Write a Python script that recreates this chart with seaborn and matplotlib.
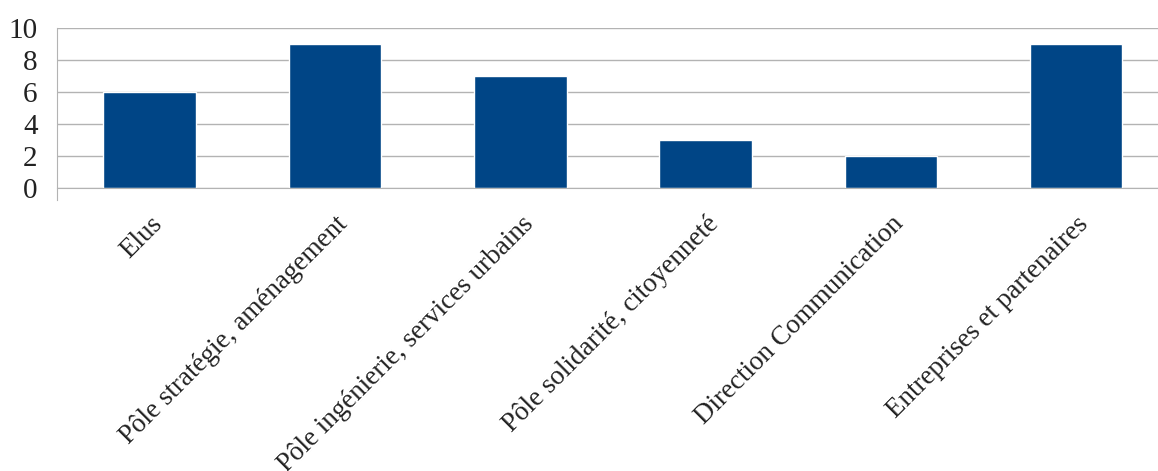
import matplotlib
matplotlib.use("Agg")
import matplotlib.pyplot as plt
import seaborn as sns
import pandas as pd
from matplotlib.ticker import FixedLocator

categories = ["Elus", "Pôle stratégie, aménagement", "Pôle ingénierie, services urbains",
              "Pôle solidarité, citoyenneté", "Direction Communication", "Entreprises et partenaires"]
values = [6, 9, 7, 3, 2, 9]
y_ticks = [0, 2, 4, 6, 8, 10]

sns.set_style("white")
plt.rcParams['font.family'] = ['Liberation Serif', 'DejaVu Serif']

fig = plt.figure(figsize=(11.58, 4.71), dpi=100)
W, H = 1158, 471
x0, y0 = 57, 188
cat_w = 185.3
ax = fig.add_axes([x0 / W, (H - y0) / H, 6 * cat_w / W, 160 / H])

df = pd.DataFrame({"cat": categories, "val": values})
sns.barplot(data=df, x="cat", y="val", color="#004586", width=0.5, ax=ax, saturation=1)

ax.set_xlim(-0.5, 5.5)
ax.set_ylim(0, 10)
ax.set_yticks(y_ticks)
ax.set_xlabel("")
ax.set_ylabel("")
ax.yaxis.grid(True, color="#b3b3b3", linewidth=1)
ax.set_axisbelow(True)
for s in ["top", "right"]:
    ax.spines[s].set_visible(False)
ax.spines["left"].set_color("#b3b3b3")
ax.spines["bottom"].set_color("#b3b3b3")
ax.spines["left"].set_bounds(-0.75, 10)

ax.tick_params(axis="y", length=9, width=1, color="#b3b3b3", labelsize=21, pad=5)
ax.tick_params(axis="x", which="major", length=0, labelsize=19.5, pad=17)
ax.xaxis.set_minor_locator(FixedLocator([-0.5, 0.5, 1.5, 2.5, 3.5, 4.5]))
ax.tick_params(axis="x", which="minor", length=9, width=1, color="#b3b3b3")
ax.set_xticks(range(len(categories)))
ax.set_xticklabels(categories, rotation=45, ha="right", va="top", rotation_mode="anchor")
for lbl in ax.get_yticklabels() + ax.get_xticklabels():
    lbl.set_color("#222222")

fig.savefig("out.png", dpi=100)
